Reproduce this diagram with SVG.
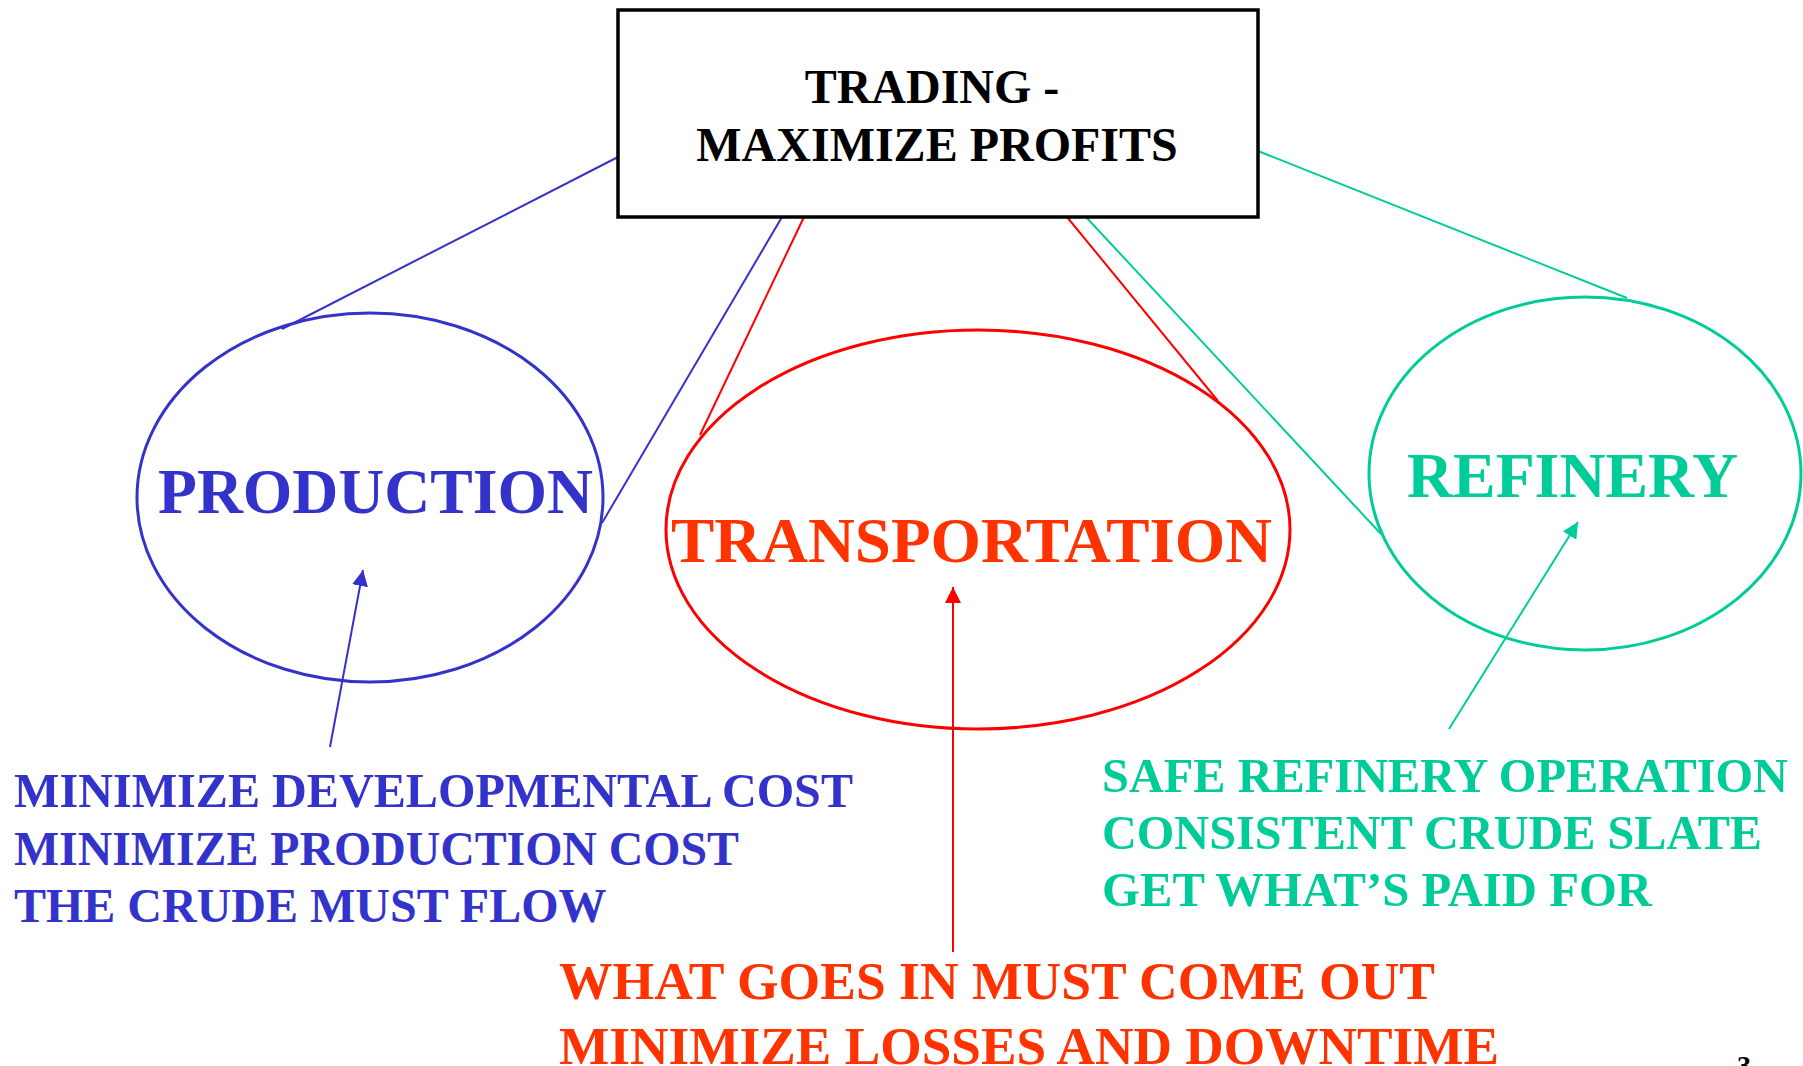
<svg xmlns="http://www.w3.org/2000/svg" width="1803" height="1066" viewBox="0 0 1803 1066">
<style>
text{font-family:"Liberation Serif","Times New Roman",serif;font-weight:bold}
.blue{fill:#3333CC}.red{fill:#FF3300}.green{fill:#00CC99}
.big{font-size:64px}
.lbl{font-size:48px}
</style>
<defs>
<marker id="ahB" markerUnits="userSpaceOnUse" markerWidth="16" markerHeight="16" viewBox="0 0 16 16" refX="16" refY="8" orient="auto"><path d="M0,0 L16,8 L0,16 Z" fill="#3333CC"/></marker>
<marker id="ahR" markerUnits="userSpaceOnUse" markerWidth="16" markerHeight="16" viewBox="0 0 16 16" refX="16" refY="8" orient="auto"><path d="M0,0 L16,8 L0,16 Z" fill="#FF0000"/></marker>
<marker id="ahG" markerUnits="userSpaceOnUse" markerWidth="16" markerHeight="16" viewBox="0 0 16 16" refX="16" refY="8" orient="auto"><path d="M0,0 L16,8 L0,16 Z" fill="#00CC99"/></marker>
</defs>
<rect width="1803" height="1066" fill="#fff"/>
<g id="connectors" fill="none" stroke-width="2">
<line x1="618" y1="157" x2="282" y2="329" stroke="#3333CC"/>
<line x1="782" y1="217" x2="602" y2="523" stroke="#3333CC"/>
<line x1="804" y1="217" x2="700" y2="435" stroke="#FF0000"/>
<line x1="1067" y1="217" x2="1218" y2="401" stroke="#FF0000"/>
<line x1="1086" y1="217" x2="1381" y2="534" stroke="#00CC99"/>
<line x1="1258" y1="151" x2="1627" y2="298" stroke="#00CC99"/>
<line x1="330" y1="747" x2="363" y2="570" stroke="#3333CC" marker-end="url(#ahB)"/>
<line x1="953" y1="952" x2="953" y2="587" stroke="#FF0000" marker-end="url(#ahR)"/>
<line x1="1449" y1="729" x2="1578" y2="522" stroke="#00CC99" marker-end="url(#ahG)"/>
</g>
<g id="trading">
<rect x="618" y="10" width="640" height="207" fill="#fff" stroke="#000" stroke-width="3.5"/>
<text x="932" y="103" text-anchor="middle" font-size="48" fill="#000">TRADING -</text>
<text x="937" y="161" text-anchor="middle" font-size="48" fill="#000">MAXIMIZE PROFITS</text>
</g>
<g id="production">
<ellipse cx="370" cy="497.5" rx="233" ry="184.5" fill="none" stroke="#3333CC" stroke-width="3"/>
<text class="blue big" x="158" y="513" textLength="435" lengthAdjust="spacingAndGlyphs">PRODUCTION</text>
</g>
<g id="transportation">
<ellipse cx="978" cy="529.5" rx="312" ry="199.5" fill="none" stroke="#FF0000" stroke-width="3"/>
<text class="red big" x="671" y="562" textLength="601" lengthAdjust="spacingAndGlyphs">TRANSPORTATION</text>
</g>
<g id="refinery">
<ellipse cx="1585" cy="473.5" rx="216" ry="176.5" fill="none" stroke="#00CC99" stroke-width="3"/>
<text class="green big" x="1407" y="497" textLength="331" lengthAdjust="spacingAndGlyphs">REFINERY</text>
</g>
<g id="production-goals" class="blue lbl">
<text x="14" y="807" textLength="839" lengthAdjust="spacingAndGlyphs">MINIMIZE DEVELOPMENTAL COST</text>
<text x="14" y="865" textLength="725" lengthAdjust="spacingAndGlyphs">MINIMIZE PRODUCTION COST</text>
<text x="14" y="922">THE CRUDE MUST FLOW</text>
</g>
<g id="transportation-goals" class="red" font-size="53">
<text x="559" y="999" textLength="876" lengthAdjust="spacingAndGlyphs">WHAT GOES IN MUST COME OUT</text>
<text x="559" y="1064" textLength="940" lengthAdjust="spacingAndGlyphs">MINIMIZE LOSSES AND DOWNTIME</text>
</g>
<g id="refinery-goals" class="green lbl">
<text x="1102" y="792" textLength="686" lengthAdjust="spacingAndGlyphs">SAFE REFINERY OPERATION</text>
<text x="1102" y="849" textLength="660" lengthAdjust="spacingAndGlyphs">CONSISTENT CRUDE SLATE</text>
<text x="1102" y="906" textLength="550" lengthAdjust="spacingAndGlyphs">GET WHAT’S PAID FOR</text>
</g>
<text x="1737" y="1075" font-size="28" font-weight="normal" fill="#000">3</text>
</svg>
